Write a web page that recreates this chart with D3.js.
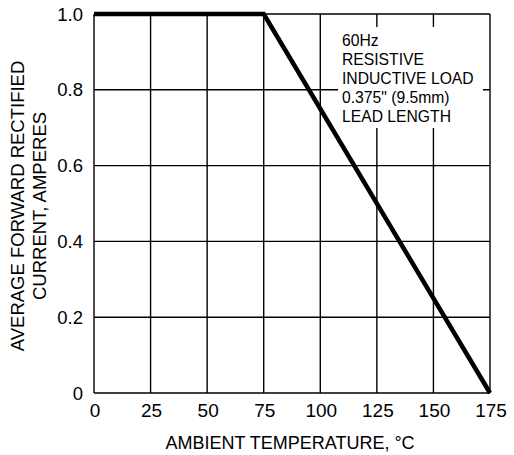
<!DOCTYPE html>
<html><head><meta charset="utf-8">
<script src="https://cdn.jsdelivr.net/npm/d3@7"></script>
<style>body{margin:0;background:#fff}svg{font-family:"Liberation Sans",Arial,sans-serif}</style>
</head><body>
<svg id="c" width="514" height="455"></svg>
<script>
const temps = [0, 75, 175];
const currents = [1.0, 1.0, 0];
const xTicks = [0, 25, 50, 75, 100, 125, 150, 175];
const yTicks = [0, 0.2, 0.4, 0.6, 0.8, 1.0];
const yTickLabels = ["0", "0.2", "0.4", "0.6", "0.8", "1.0"];
const noteLines = ["60Hz", "RESISTIVE", "INDUCTIVE LOAD", "0.375\" (9.5mm)", "LEAD LENGTH"];

const svg = d3.select("#c");
const m = {l: 94, r: 490, t: 14, b: 393};
const x = d3.scaleLinear().domain([0, 175]).range([m.l, m.r]);
const y = d3.scaleLinear().domain([0, 1]).range([m.b, m.t]);

const g = svg.append("g");
g.selectAll(".vg").data(xTicks).join("line")
  .attr("x1", d => x(d)).attr("x2", d => x(d)).attr("y1", m.t).attr("y2", m.b)
  .attr("stroke", "#000").attr("stroke-width", 1.4);
g.selectAll(".hg").data(yTicks).join("line")
  .attr("y1", d => y(d)).attr("y2", d => y(d)).attr("x1", m.l).attr("x2", m.r)
  .attr("stroke", "#000").attr("stroke-width", 1.4);

// note box background
svg.append("rect").attr("x", 338).attr("y", 27).attr("width", 145).attr("height", 101).attr("fill", "#fff");

svg.append("path").datum(temps.map((t, i) => [t, currents[i]]))
  .attr("d", d3.line().x(d => x(d[0])).y(d => y(d[1])))
  .attr("fill", "none").attr("stroke", "#000").attr("stroke-width", 4.5).attr("stroke-linejoin", "miter");

svg.selectAll(".xl").data(xTicks).join("text")
  .attr("x", d => x(d) + 1).attr("y", 417).attr("text-anchor", "middle")
  .attr("font-size", 19).text(d => d);
svg.selectAll(".yl").data(yTicks).join("text")
  .attr("x", 83).attr("y", d => y(d) + 6.5).attr("text-anchor", "end")
  .attr("font-size", 18.5).text((d, i) => yTickLabels[i]);

svg.append("text").attr("x", 290).attr("y", 449).attr("text-anchor", "middle")
  .attr("font-size", 18).text("AMBIENT TEMPERATURE, °C");
const yt = svg.append("text").attr("transform", `translate(23.5,206) rotate(-90)`)
  .attr("text-anchor", "middle").attr("font-size", 18.5);
yt.append("tspan").attr("x", 0).attr("dy", 0).text("AVERAGE FORWARD RECTIFIED");
yt.append("tspan").attr("x", 0).attr("dy", 22).text("CURRENT, AMPERES");

svg.selectAll(".note").data(noteLines).join("text")
  .attr("x", 342).attr("y", (d, i) => 46 + i * 19).attr("font-size", 15.7).text(d => d);
</script>
</body></html>
